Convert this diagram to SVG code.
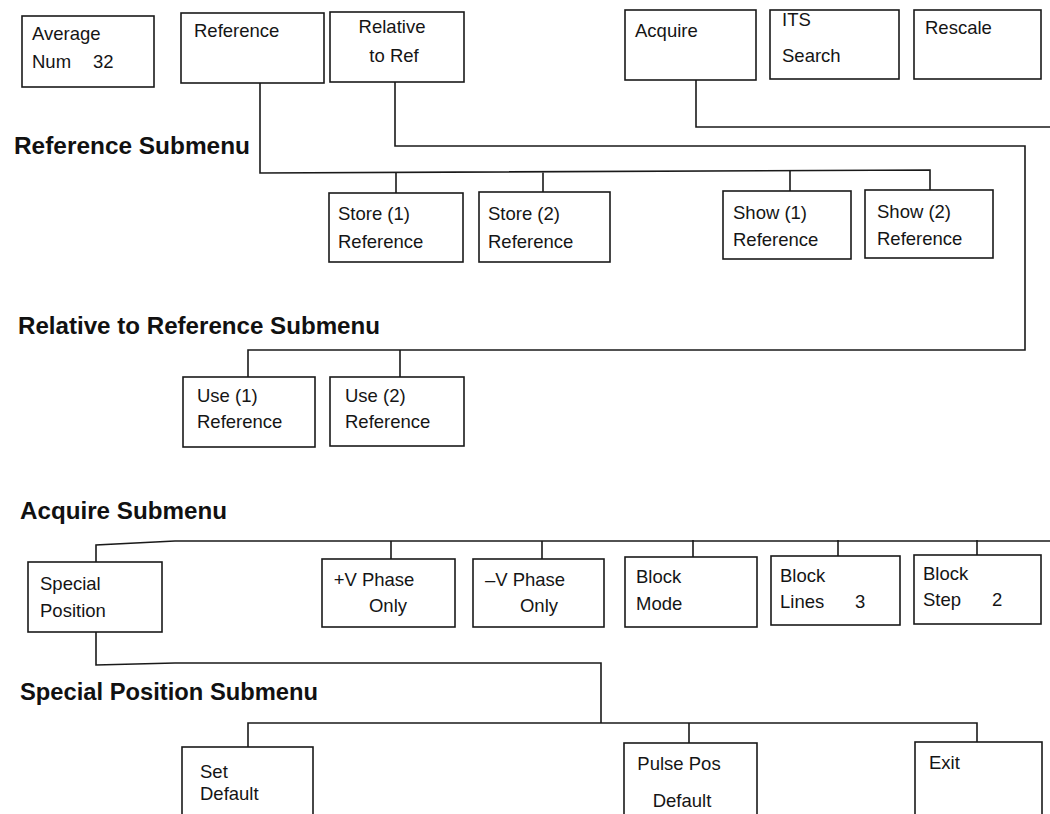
<svg xmlns="http://www.w3.org/2000/svg" width="1050" height="814" viewBox="0 0 1050 814">
<style>
.box{fill:#fff;stroke:#1a1a1a;stroke-width:1.6}
.t{font-family:"Liberation Sans",Arial,Helvetica,sans-serif;font-size:18.5px;fill:#151515}
.c{text-anchor:middle}
.h{font-family:"Liberation Sans",Arial,Helvetica,sans-serif;font-size:24px;font-weight:bold;fill:#111}
.ln{fill:none;stroke:#1a1a1a;stroke-width:1.6}
</style>
<rect width="1050" height="814" fill="#fff"/>
<g id="connectors">
<path class="ln" d="M260,83 V173 L930,170 V190"/>
<path class="ln" d="M396,173 V193 M543,172.5 V192 M790,171 V191"/>
<path class="ln" d="M395,82 V146 H1025 V350 H248 V377 M400,350 V377"/>
<path class="ln" d="M696,80 V127 H1050"/>
<path class="ln" d="M96,562 V545 L175,541 H1050"/>
<path class="ln" d="M391,541 V559 M542,541 V559 M693,540 V557 M838,540 V556 M977,540 V555"/>
<path class="ln" d="M96,632 V665 L175,663 H601 V723"/>
<path class="ln" d="M248,747 V723 H977 V742 M689,723 V743"/>
</g>
<g id="titles">
<text class="h" x="14" y="154" textLength="236" lengthAdjust="spacingAndGlyphs">Reference Submenu</text>
<text class="h" x="18" y="334" textLength="362" lengthAdjust="spacingAndGlyphs">Relative to Reference Submenu</text>
<text class="h" x="20" y="519" textLength="207" lengthAdjust="spacingAndGlyphs">Acquire Submenu</text>
<text class="h" x="20" y="700" textLength="298" lengthAdjust="spacingAndGlyphs">Special Position Submenu</text>
</g>
<g id="average-num"><rect class="box" x="22" y="16" width="132" height="71"/><text class="t" x="32" y="40">Average</text><text class="t" x="32" y="68">Num</text><text class="t" x="93" y="68">32</text></g>
<g id="reference"><rect class="box" x="181" y="13" width="143" height="70"/><text class="t" x="194" y="37">Reference</text></g>
<g id="relative-to-ref"><rect class="box" x="330" y="12" width="134" height="70"/><text class="t c" x="392" y="33">Relative</text><text class="t c" x="394" y="62">to Ref</text></g>
<g id="acquire"><rect class="box" x="625" y="10" width="131" height="70"/><text class="t" x="635" y="37">Acquire</text></g>
<g id="its-search"><rect class="box" x="770" y="10" width="129" height="69"/><text class="t" x="782" y="26">ITS</text><text class="t" x="782" y="62">Search</text></g>
<g id="rescale"><rect class="box" x="914" y="10" width="127" height="69"/><text class="t" x="925" y="34">Rescale</text></g>
<g id="store1"><rect class="box" x="329" y="193" width="134" height="69"/><text class="t" x="338" y="220">Store (1)</text><text class="t" x="338" y="248">Reference</text></g>
<g id="store2"><rect class="box" x="479" y="192" width="131" height="70"/><text class="t" x="488" y="220">Store (2)</text><text class="t" x="488" y="248">Reference</text></g>
<g id="show1"><rect class="box" x="723" y="191" width="128" height="68"/><text class="t" x="733" y="219">Show (1)</text><text class="t" x="733" y="246">Reference</text></g>
<g id="show2"><rect class="box" x="865" y="190" width="128" height="68"/><text class="t" x="877" y="218">Show (2)</text><text class="t" x="877" y="245">Reference</text></g>
<g id="use1"><rect class="box" x="183" y="377" width="132" height="70"/><text class="t" x="197" y="402">Use (1)</text><text class="t" x="197" y="428">Reference</text></g>
<g id="use2"><rect class="box" x="330" y="377" width="134" height="69"/><text class="t" x="345" y="402">Use (2)</text><text class="t" x="345" y="428">Reference</text></g>
<g id="special-position"><rect class="box" x="28" y="562" width="134" height="70"/><text class="t" x="40" y="590">Special</text><text class="t" x="40" y="617">Position</text></g>
<g id="plus-v-phase"><rect class="box" x="322" y="559" width="133" height="68"/><text class="t c" x="374" y="586">+V Phase</text><text class="t c" x="388" y="612">Only</text></g>
<g id="minus-v-phase"><rect class="box" x="473" y="559" width="131" height="68"/><text class="t c" x="525" y="586">–V Phase</text><text class="t c" x="539" y="612">Only</text></g>
<g id="block-mode"><rect class="box" x="625" y="557" width="132" height="70"/><text class="t" x="636" y="583">Block</text><text class="t" x="636" y="610">Mode</text></g>
<g id="block-lines"><rect class="box" x="771" y="556" width="129" height="69"/><text class="t" x="780" y="582">Block</text><text class="t" x="780" y="608">Lines</text><text class="t" x="855" y="608">3</text></g>
<g id="block-step"><rect class="box" x="914" y="555" width="127" height="69"/><text class="t" x="923" y="580">Block</text><text class="t" x="923" y="606">Step</text><text class="t" x="992" y="606">2</text></g>
<g id="set-default"><rect class="box" x="182" y="747" width="131" height="80"/><text class="t" x="200" y="778">Set</text><text class="t" x="200" y="800">Default</text></g>
<g id="pulse-pos-default"><rect class="box" x="624" y="743" width="133" height="84"/><text class="t c" x="679" y="770">Pulse Pos</text><text class="t c" x="682" y="807">Default</text></g>
<g id="exit"><rect class="box" x="915" y="742" width="127" height="85"/><text class="t" x="929" y="769">Exit</text></g>
</svg>
